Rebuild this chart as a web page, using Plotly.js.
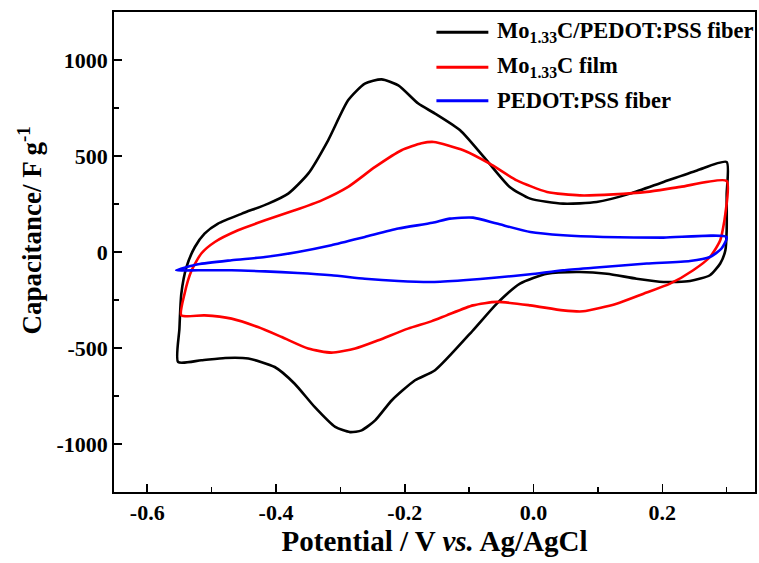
<!DOCTYPE html>
<html>
<head>
<meta charset="utf-8">
<script src="https://cdn.plot.ly/plotly-3.0.1.min.js"></script>
<style>html,body{margin:0;padding:0;background:#fff;}#chart{width:759px;height:563px;}</style>
</head>
<body>
<div id="chart"></div>
<script>
// Mo1.33C/PEDOT:PSS fiber (closed CV loop)
const blackV = [-0.552,-0.550,-0.547,-0.539,-0.526,-0.511,-0.490,-0.453,-0.412,-0.381,-0.350,-0.319,-0.288,-0.262,-0.236,-0.210,-0.179,-0.153,-0.114,-0.073,-0.037,-0.005,0.046,0.098,0.150,0.202,0.254,0.300,
  0.300,0.300,0.298,0.290,0.274,0.243,0.202,0.160,0.114,0.072,0.021,-0.021,-0.057,-0.094,-0.153,-0.184,-0.220,-0.246,-0.267,-0.285,-0.308,-0.340,-0.371,-0.402,-0.443,-0.479,-0.516,-0.552];
const blackC = [-573,-400,-217,-78,26,96,148,200,252,304,408,582,790,877,899,868,773,721,634,478,339,278,252,260,304,365,425,469,
  300,113,9,-60,-121,-151,-156,-139,-113,-104,-113,-165,-269,-408,-616,-668,-772,-877,-929,-938,-911,-807,-686,-599,-555,-552,-564,-573];

// Mo1.33C film
const redV = [-0.547,-0.542,-0.531,-0.516,-0.495,-0.459,-0.417,-0.371,-0.329,-0.288,-0.246,-0.205,-0.174,-0.155,-0.109,-0.068,-0.026,0.021,0.072,0.124,0.176,0.228,0.300,
  0.298,0.290,0.274,0.248,0.212,0.171,0.129,0.077,0.046,-0.005,-0.057,-0.094,-0.135,-0.158,-0.195,-0.241,-0.277,-0.314,-0.350,-0.391,-0.428,-0.469,-0.511,-0.547];
const redC = [-330,-217,-95,-8,52,113,165,217,269,339,443,530,566,573,530,460,373,313,295,300,313,339,370,
  200,61,-26,-95,-165,-217,-269,-309,-304,-278,-260,-278,-330,-360,-399,-460,-503,-524,-503,-443,-391,-347,-330,-330];

// PEDOT:PSS fiber
const blueV = [-0.555,-0.521,-0.469,-0.417,-0.366,-0.314,-0.262,-0.210,-0.157,-0.130,-0.094,-0.057,-0.005,0.046,0.108,0.202,0.300,
  0.292,0.274,0.243,0.176,0.098,0.046,-0.005,-0.057,-0.109,-0.157,-0.210,-0.262,-0.314,-0.366,-0.417,-0.469,-0.521,-0.555];
const blueC = [-95,-64,-43,-26,0,35,78,122,152,174,179,148,104,87,78,75,78,
  18,-26,-47,-60,-81,-95,-116,-133,-147,-156,-151,-139,-121,-109,-101,-95,-95,-95];

const seriesNames = ['Mo<sub>1.33</sub>C/PEDOT:PSS fiber', 'Mo<sub>1.33</sub>C film', 'PEDOT:PSS fiber'];
const seriesColors = ['#000000', '#ff0000', '#0000ff'];
const xTickVals = [-0.6,-0.4,-0.2,0.0,0.2];
const xTickText = ['-0.6','-0.4','-0.2','0.0','0.2'];
const yTickVals = [-1000,-500,0,500,1000];
const yTickText = ['-1000','-500','0','500','1000'];

const FONT = '"Liberation Serif", "Times New Roman", serif';
const data = [
  {x: blackV, y: blackC, name: seriesNames[0], mode:'lines', line:{color:seriesColors[0], width:2.6, shape:'spline', smoothing:0.6}},
  {x: redV, y: redC, name: seriesNames[1], mode:'lines', line:{color:seriesColors[1], width:2.6, shape:'spline', smoothing:0.6}},
  {x: blueV, y: blueC, name: seriesNames[2], mode:'lines', line:{color:seriesColors[2], width:2.6, shape:'spline', smoothing:0.6}}
];

const legY = [0.958, 0.885, 0.815];
const shapes = [], annotations = [];
for (let i = 0; i < 3; i++) {
  shapes.push({type:'line', xref:'paper', yref:'paper', x0:0.503, x1:0.584, y0:legY[i], y1:legY[i], line:{color:seriesColors[i], width:3}});
  annotations.push({xref:'paper', yref:'paper', x:0.595, y:legY[i], xanchor:'left', yanchor:'middle', showarrow:false, text:seriesNames[i], font:{family:FONT, size:22.5, color:'#000', weight:'bold'}});
}
// y-axis title (placed as rotated text to match reference offset)
annotations.push({xref:'paper', yref:'paper', x:-0.131, y:0.545, xanchor:'center', yanchor:'middle', textangle:-90, showarrow:false,
  text:'Capacitance/ F g<sup>-1</sup>', font:{family:FONT, size:27, color:'#000', weight:'bold'}});

const layout = {
  width:759, height:563,
  margin:{l:114, r:4, t:12, b:71},
  paper_bgcolor:'#fff', plot_bgcolor:'#fff',
  showlegend:false,
  font:{family:FONT, color:'#000', weight:'bold'},
  xaxis:{
    range:[-0.6516, 0.344], tickvals:xTickVals, ticktext:xTickText,
    ticks:'inside', ticklen:8, tickwidth:1.5, tickcolor:'#000',
    minor:{dtick:0.1, tick0:0, ticks:'inside', ticklen:5, tickwidth:1.5, tickcolor:'#000'},
    showline:true, linecolor:'#000', linewidth:1.8, mirror:true,
    showgrid:false, zeroline:false,
    tickfont:{family:FONT, size:22, weight:'bold'},
    title:{text:'Potential / V <i>vs.</i> Ag/AgCl', font:{family:FONT, size:29, weight:'bold'}, standoff:6}
  },
  yaxis:{
    range:[-1250, 1250], tickvals:yTickVals, ticktext:yTickText,
    ticks:'inside', ticklen:8, tickwidth:1.5, tickcolor:'#000',
    minor:{dtick:250, tick0:0, ticks:'inside', ticklen:5, tickwidth:1.5, tickcolor:'#000'},
    showline:true, linecolor:'#000', linewidth:1.8, mirror:true,
    showgrid:false, zeroline:false,
    tickfont:{family:FONT, size:22, weight:'bold'}
  },
  shapes: shapes,
  annotations: annotations
};

Plotly.newPlot('chart', data, layout, {displayModeBar:false, staticPlot:true});
</script>
</body>
</html>
